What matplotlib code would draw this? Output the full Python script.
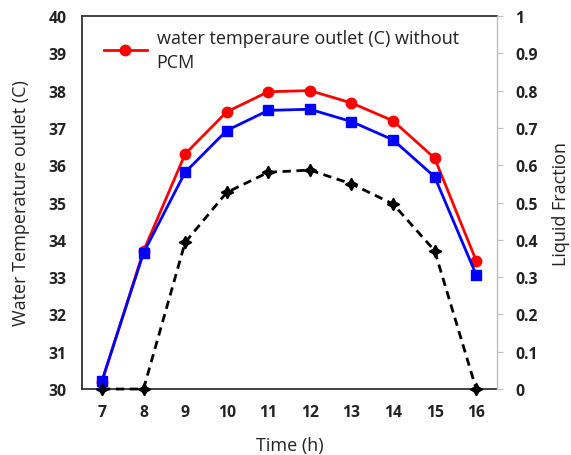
import matplotlib
matplotlib.use("Agg")
import matplotlib.pyplot as plt

hours = [7, 8, 9, 10, 11, 12, 13, 14, 15, 16]
temp_without_pcm = [30.2, 33.7, 36.3, 37.43, 37.97, 38.0, 37.67, 37.19, 36.19, 33.44]
temp_with_pcm = [30.22, 33.65, 35.81, 36.93, 37.47, 37.5, 37.17, 36.68, 35.69, 33.06]
liquid_fraction = [0.0, 0.0, 0.393, 0.527, 0.581, 0.587, 0.55, 0.496, 0.371, 0.0]
left_ticks = list(range(30, 41))
right_ticks = [0, 0.1, 0.2, 0.3, 0.4, 0.5, 0.6, 0.7, 0.8, 0.9, 1]
right_ticklabels = ["0", "0.1", "0.2", "0.3", "0.4", "0.5", "0.6", "0.7", "0.8", "0.9", "1"]

plt.rcParams['font.family'] = ['Open Sans', 'DejaVu Sans']

fig = plt.figure(figsize=(5.71, 4.56), dpi=100)
ax = fig.add_axes([0.1436, 0.1447, 0.7268, 0.818])
ax2 = ax.twinx()

l1, = ax.plot(hours, temp_without_pcm, color='#ff0000', lw=2, marker='o', ms=7.5,
              label='water temperaure outlet (C) without\nPCM', zorder=3)
ax.plot(hours, temp_with_pcm, color='#0000ff', lw=2, marker='s', ms=7.5, zorder=4)
ax2.plot(hours, liquid_fraction, color='black', lw=2, ls=(0, (3, 2)), marker=(4, 1, 0),
         ms=9, clip_on=False, zorder=5)

ax.set_xlim(6.52, 16.5)
ax.set_ylim(30, 40)
ax2.set_ylim(0, 1)
ax.set_xticks(hours)
ax.set_xticklabels([str(h) for h in hours], fontweight='bold', fontsize=11.3)
ax.set_yticks(left_ticks)
ax.set_yticklabels([str(t) for t in left_ticks], fontweight='bold', fontsize=11.3)
ax2.set_yticks(right_ticks)
ax2.set_yticklabels(right_ticklabels, fontweight='bold', fontsize=11.3)

ax.tick_params(axis='both', length=0, pad=11, colors='#222222')
ax.tick_params(axis='y', pad=11)
ax2.tick_params(axis='y', length=4, color='#bfbfbf', pad=9, labelcolor='#222222')

for s in ['left', 'bottom', 'top']:
    ax.spines[s].set_color('#333333')
    ax.spines[s].set_linewidth(1.3)
ax.spines['right'].set_visible(False)
for s in ['left', 'bottom', 'top']:
    ax2.spines[s].set_visible(False)
ax2.spines['right'].set_color('#bfbfbf')
ax2.spines['right'].set_linewidth(1.0)

ax.set_xlabel('Time (h)', fontsize=13, color='#222222', labelpad=11)
ax.set_ylabel('Water Temperature outlet (C)', fontsize=13, color='#222222')
ax.yaxis.set_label_coords(-0.125, 0.5)
ax2.set_ylabel('Liquid Fraction', fontsize=13, color='#222222')
ax2.yaxis.set_label_coords(1.132, 0.5)

leg = ax.legend(handles=[l1], loc='upper left', bbox_to_anchor=(0.023, 1.0), frameon=False,
                fontsize=13, handlelength=2.35, handletextpad=0.55, borderaxespad=0.3)
for t in leg.get_texts():
    t.set_linespacing(1.45)
    t.set_color('#222222')

fig.savefig('out.png', dpi=100)
